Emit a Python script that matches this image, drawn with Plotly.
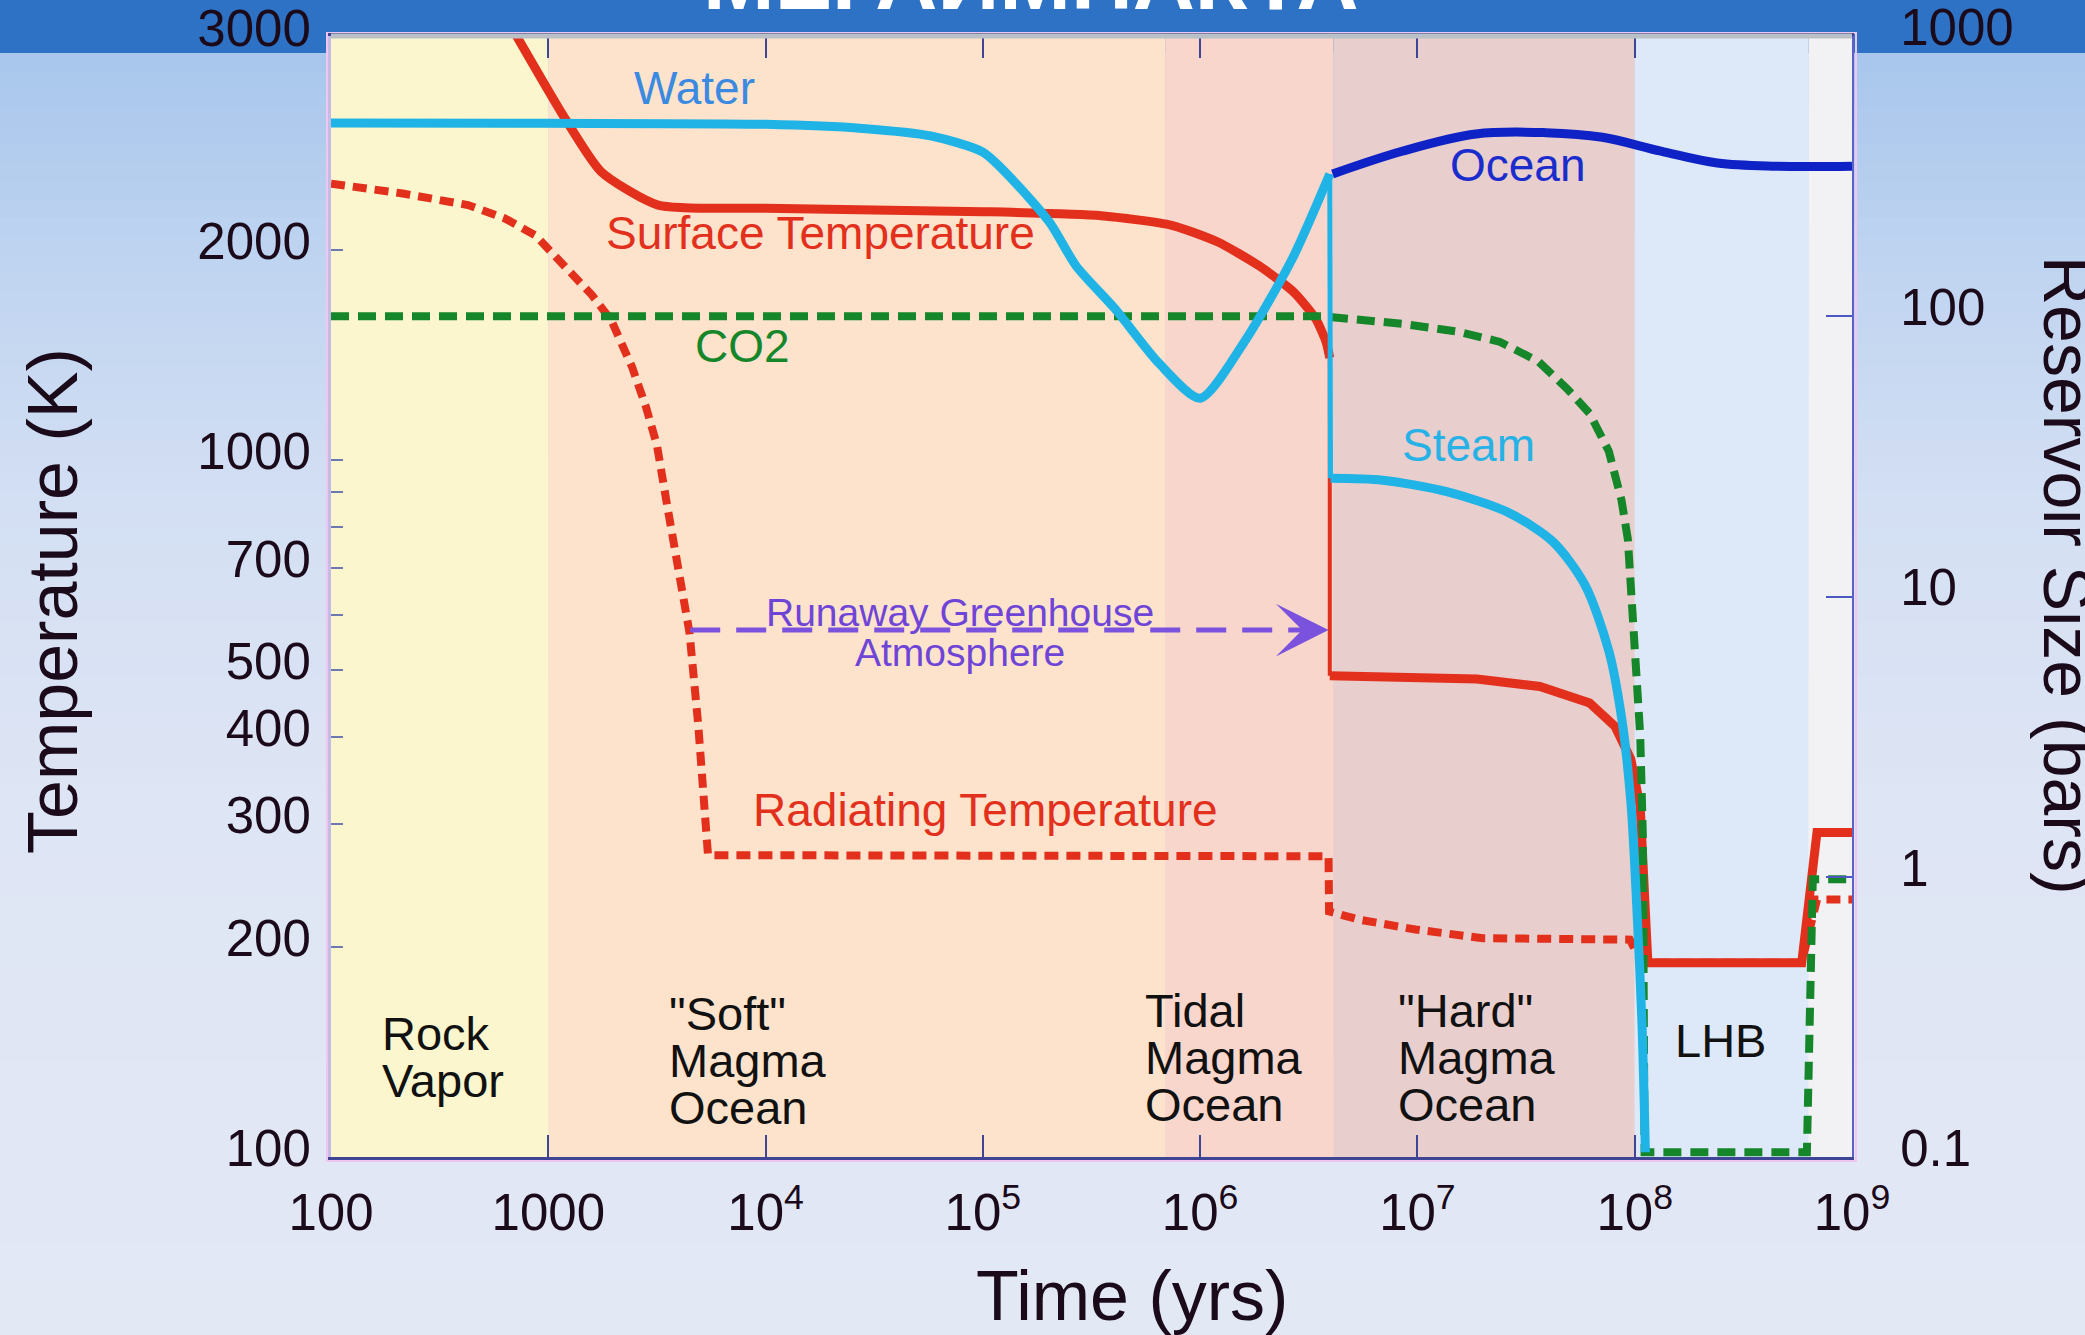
import math
import plotly.graph_objects as go

# ---------------- data ----------------
# Surface temperature (K), solid red, before and after the step at ~4 Myr
surface_t1 = [700, 1200, 1750, 3200, 1.0e4, 1.0e5, 3.5e5, 7.4e5, 1.2e6, 1.86e6, 2.7e6, 3.4e6, 3.8e6, 3.95e6]
surface_T1 = [4100, 3080, 2590, 2320, 2295, 2270, 2240, 2170, 2055, 1900, 1740, 1594, 1476, 1400]
surface_t2 = [3.95e6, 1.88e7, 3.66e7, 6.2e7, 8.1e7, 9.6e7, 1.06e8, 1.13e8, 1.15e8, 5.87e8, 6.9e8, 1.0e9]
surface_T2 = [490, 485, 473, 448, 415, 372, 318, 232, 190, 190, 292, 292]

# Radiating temperature (K), dashed red
radiating_t = [100, 214, 427, 631, 871, 1122, 1585, 1950, 2427, 2818, 3162, 3548, 3981, 4467, 4898, 5188, 5433,
               3.9e6, 3.92e6, 5.4e6, 9.8e6, 2.0e7, 4.2e7, 9.5e7, 1.03e8, 1.1e8, 5.87e8, 6.9e8, 1.0e9]
radiating_T = [2490, 2410, 2320, 2220, 2100, 1925, 1725, 1585, 1360, 1190, 1050, 850, 700, 565, 417, 331, 271,
               270, 225, 219, 212, 206, 205, 205, 195, 190, 190, 234, 234]

# Reservoir sizes (bars)
co2_t = [100, 3.6e6, 8.5e6, 1.55e7, 2.4e7, 3.6e7, 4.9e7, 6.2e7, 7.6e7, 8.7e7, 9.3e7, 9.9e7, 1.06e8, 1.09e8, 1.11e8,
         6.2e8, 6.6e8, 1.0e9]
co2_p = [100, 100, 94, 88, 81, 69, 55, 45, 33, 22, 16, 7.3, 3.2, 1.4, 0.104, 0.104, 0.98, 0.98]

water_t = [100, 1000, 1.0e4, 2.8e4, 5.75e4, 1.0e5, 1.38e5, 2.04e5, 2.69e5, 4.07e5, 6.46e5, 1.0e6, 1.58e6, 2.63e6, 3.95e6]
water_p = [489, 488, 484, 468, 440, 385, 305, 215, 151, 106, 68, 51, 80, 158, 322]

steam_t = [3.98e6, 6.9e6, 1.35e7, 2.6e7, 4.2e7, 5.9e7, 7.6e7, 8.7e7, 9.6e7, 1.02e8, 1.08e8, 1.12e8]
steam_p = [26.4, 26, 23.7, 20, 15.7, 11, 6.4, 3.7, 1.85, 0.81, 0.3, 0.104]

ocean_t = [4.07e6, 8.5e6, 1.86e7, 3.9e7, 7.1e7, 1.32e8, 2.4e8, 4.5e8, 1.0e9]
ocean_p = [322, 388, 447, 452, 435, 388, 352, 343, 343]

# Runaway greenhouse arrow (time, K)
arrow_t = [4.5e3, 3.9e6]
arrow_T = [570, 570]

# Evolution stages
stage_edges = [100, 1000, 6.9e5, 4.1e6, 1.0e8, 6.3e8, 1.0e9]
stage_names = [["Rock", "Vapor"], ['"Soft"', "Magma", "Ocean"], ["Tidal", "Magma", "Ocean"],
               ['"Hard"', "Magma", "Ocean"], ["LHB"], []]

# Axis ticks
x_tickvals = [1e2, 1e3, 1e4, 1e5, 1e6, 1e7, 1e8, 1e9]
x_ticktext = ["100", "1000", "10<sup>4</sup>", "10<sup>5</sup>", "10<sup>6</sup>",
              "10<sup>7</sup>", "10<sup>8</sup>", "10<sup>9</sup>"]
T_top = 10 ** 3.606
T_tickvals = [100, 200, 300, 400, 500, 600, 700, 800, 900, 1000, 2000, T_top]
T_ticktext = ["100", "200", "300", "400", "500", " ", "700", " ", " ", "1000", "2000", "3000"]
P_tickvals = [0.1, 1, 10, 100, 1000]
P_ticktext = ["0.1", "1", "10", "100", "1000"]

# ---------------- styling ----------------
W, H = 2085, 1335
L, R, T, B = 331, 1852, 36, 1157
FONT = "Liberation Sans, Arial, sans-serif"
RED = "#e2301d"
CYAN = "#1fb3e6"
GREEN = "#16862a"
OCEAN = "#0f22c6"
PURPLE = "#7b52de"
INK = "#1a0a1a"
stage_colors = ["#fbf6cd", "#fde3cc", "#f8d6cc", "#e8cecd", "#dde9f8", "#f2f2f4"]


def pxx(xf):
    return (xf - L) / (R - L)


def pxy(yf):
    return (B - yf) / (B - T)


fig = go.Figure()

# red dashed radiating temperature
fig.add_trace(go.Scatter(x=radiating_t, y=radiating_T, mode="lines", yaxis="y",
                         line=dict(color=RED, width=8, dash="14px,8px")))
# red solid surface temperature
fig.add_trace(go.Scatter(x=surface_t1, y=surface_T1, mode="lines", yaxis="y",
                         line=dict(color=RED, width=9, shape="spline", smoothing=0.6)))
fig.add_trace(go.Scatter(x=[surface_t1[-1], surface_t2[0]], y=[surface_T1[-1], surface_T2[0]],
                         mode="lines", yaxis="y", line=dict(color=RED, width=4)))
fig.add_trace(go.Scatter(x=surface_t2, y=surface_T2, mode="lines", yaxis="y",
                         line=dict(color=RED, width=9)))
# CO2
fig.add_trace(go.Scatter(x=co2_t, y=co2_p, mode="lines", yaxis="y2",
                         line=dict(color=GREEN, width=8, dash="18px,9px")))
# Water / steam
fig.add_trace(go.Scatter(x=water_t, y=water_p, mode="lines", yaxis="y2",
                         line=dict(color=CYAN, width=9, shape="spline", smoothing=0.7)))
fig.add_trace(go.Scatter(x=[water_t[-1], steam_t[0]], y=[water_p[-1], steam_p[0]], mode="lines",
                         yaxis="y2", line=dict(color=CYAN, width=5)))
fig.add_trace(go.Scatter(x=steam_t, y=steam_p, mode="lines", yaxis="y2",
                         line=dict(color=CYAN, width=9, shape="spline", smoothing=0.8)))
# Ocean
fig.add_trace(go.Scatter(x=ocean_t, y=ocean_p, mode="lines", yaxis="y2",
                         line=dict(color=OCEAN, width=9, shape="spline", smoothing=1.0)))
# Runaway greenhouse dashed arrow shaft
fig.add_trace(go.Scatter(x=arrow_t, y=arrow_T, mode="lines", yaxis="y",
                         line=dict(color=PURPLE, width=5, dash="30px,16px")))

shapes = []
# background gradient (figure)
stops = [(53, (168, 198, 236)), (250, (190, 211, 240)), (500, (211, 223, 243)),
         (800, (222, 229, 244)), (1335, (227, 232, 245))]
n = 70
y0 = 53
for i in range(n):
    ya = y0 + (H - y0) * i / n
    yb = y0 + (H - y0) * (i + 1) / n + 1
    ym = (ya + yb) / 2
    c = stops[-1][1]
    for j in range(len(stops) - 1):
        if stops[j][0] <= ym <= stops[j + 1][0]:
            f = (ym - stops[j][0]) / (stops[j + 1][0] - stops[j][0])
            c = [round(stops[j][1][k] + f * (stops[j + 1][1][k] - stops[j][1][k])) for k in range(3)]
            break
    shapes.append(dict(type="rect", xref="paper", yref="paper", x0=pxx(0) - 0.01, x1=pxx(W) + 0.01,
                       y0=pxy(yb), y1=pxy(ya), fillcolor="rgb(%d,%d,%d)" % tuple(c),
                       line=dict(width=0), layer="below"))
# banner
shapes.append(dict(type="rect", xref="paper", yref="paper", x0=pxx(0) - 0.01, x1=pxx(W) + 0.01,
                   y0=pxy(53), y1=pxy(-5), fillcolor="#2e72c6", line=dict(width=0), layer="below"))
# pink frame
shapes.append(dict(type="rect", xref="paper", yref="paper", x0=pxx(327), x1=pxx(1856),
                   y0=pxy(1161), y1=pxy(33), fillcolor="rgba(0,0,0,0)",
                   line=dict(color="#eec6f0", width=2), layer="below"))
# stage bands
for a, b, c in zip(stage_edges[:-1], stage_edges[1:], stage_colors):
    shapes.append(dict(type="rect", xref="x", yref="paper", x0=a, x1=b, y0=0, y1=1,
                       fillcolor=c, line=dict(width=0), layer="below"))
# top grey frame line
shapes.append(dict(type="line", xref="paper", yref="paper", x0=0, x1=1, y0=1, y1=1,
                   line=dict(color="#b9c1c6", width=5), layer="above"))

annotations = []
# title (cut by the page edge)
annotations.append(dict(text="<b>МЕГАИМПАКТА</b>", xref="paper", yref="paper", x=pxx(1031), y=pxy(29),
                        xanchor="center", yanchor="bottom", showarrow=False,
                        font=dict(family=FONT, size=86, color="white")))
# axis titles
annotations.append(dict(text="Time (yrs)", xref="paper", yref="paper", x=pxx(1132), y=pxy(1296),
                        xanchor="center", yanchor="middle", showarrow=False,
                        font=dict(family=FONT, size=70, color=INK)))
annotations.append(dict(text="Temperature (K)", xref="paper", yref="paper", x=pxx(53), y=pxy(601),
                        xanchor="center", yanchor="middle", showarrow=False, textangle=-90,
                        font=dict(family=FONT, size=70, color=INK)))
annotations.append(dict(text="Reservoir Size (bars)", xref="paper", yref="paper", x=pxx(2068), y=pxy(575),
                        xanchor="center", yanchor="middle", showarrow=False, textangle=90,
                        font=dict(family=FONT, size=68, color=INK)))
# curve labels
curve_labels = [("Water", 694, 88, "#3a8ae2", 46),
                ("Surface Temperature", 820, 233, RED, 46),
                ("CO2", 742, 346, GREEN, 46),
                ("Ocean", 1518, 165, "#1a2ccc", 46),
                ("Steam", 1468, 445, "#26b2e6", 46),
                ("Runaway Greenhouse", 960, 612, "#6f45d8", 39),
                ("Atmosphere", 960, 652, "#6f45d8", 39),
                ("Radiating Temperature", 985, 810, RED, 46)]
for txt, xf, yf, col, sz in curve_labels:
    annotations.append(dict(text=txt, xref="paper", yref="paper", x=pxx(xf), y=pxy(yf),
                            xanchor="center", yanchor="middle", showarrow=False,
                            font=dict(family=FONT, size=sz, color=col)))
# stage labels (one annotation per line)
stage_label_pos = [(380, 1057), (667, 1060), (1143, 1057), (1396, 1057), (1673, 1040), (0, 0)]
for lines, (xl, yc) in zip(stage_names, stage_label_pos):
    nlines = len(lines)
    for k, line in enumerate(lines):
        yf = yc + (k - (nlines - 1) / 2) * 47
        annotations.append(dict(text=line, xref="paper", yref="paper", x=pxx(xl), y=pxy(yf),
                                xanchor="left", yanchor="middle", showarrow=False,
                                font=dict(family=FONT, size=47, color="#111111")))
# arrow head
annotations.append(dict(text="", x=math.log10(arrow_t[1]), y=math.log10(arrow_T[1]), xref="x", yref="y",
                        ax=math.log10(arrow_t[1]) - 0.15, ay=math.log10(arrow_T[1]), axref="x", ayref="y",
                        showarrow=True, arrowhead=3, arrowsize=2.2, arrowwidth=4, arrowcolor=PURPLE,
                        standoff=0))

tickfont = dict(family=FONT, size=51, color=INK)
fig.update_layout(
    width=W, height=H,
    margin=dict(l=L, r=W - R, t=T, b=H - B, pad=0, autoexpand=False),
    paper_bgcolor="#dfe6f3", plot_bgcolor="rgba(0,0,0,0)",
    showlegend=False,
    shapes=shapes, annotations=annotations,
    xaxis=dict(type="log", range=[2, 9], tickvals=x_tickvals, ticktext=x_ticktext,
               ticks="inside", ticklen=22, tickwidth=2, tickcolor="#3d4594",
               showline=True, linecolor="#3d4594", linewidth=3, mirror="ticks",
               showgrid=False, zeroline=False, tickfont=tickfont, ticklabelstandoff=9,
               automargin=False),
    yaxis=dict(type="log", range=[2, 3.608], tickvals=T_tickvals, ticktext=T_ticktext,
               ticks="inside", ticklen=12, tickwidth=2, tickcolor="#7078b0",
               showline=True, linecolor="#c3bce6", linewidth=3,
               showgrid=False, zeroline=False, tickfont=tickfont, ticklabelstandoff=7,
               ticklabelshift=-9, ticklabeloverflow="allow", automargin=False),
    yaxis2=dict(type="log", range=[-1, 3], overlaying="y", side="right",
                tickvals=P_tickvals, ticktext=P_ticktext,
                ticks="inside", ticklen=26, tickwidth=2, tickcolor="#4c58c0",
                showline=True, linecolor="#5a62c8", linewidth=2,
                showgrid=False, zeroline=False, tickfont=tickfont, ticklabelstandoff=36,
                ticklabelshift=-9, ticklabeloverflow="allow", automargin=False),
)

fig.write_html("out.html", config={"displayModeBar": False},
               post_script="document.body.style.margin='0px';document.body.style.overflow='hidden';")
